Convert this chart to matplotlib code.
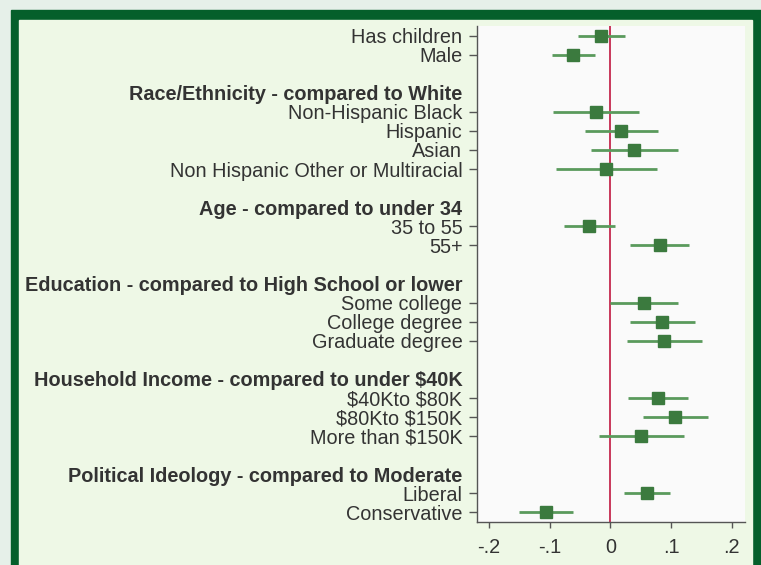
import matplotlib.pyplot as plt
from matplotlib.patches import Rectangle

plt.rcParams['font.family'] = ['Liberation Sans', 'DejaVu Sans']

# rows top to bottom; None = blank row, ("h", text) = group header
rows = [
    "Has children", "Male", None,
    ("h", "Race/Ethnicity - compared to White"),
    "Non-Hispanic Black", "Hispanic", "Asian", "Non Hispanic Other or Multiracial", None,
    ("h", "Age - compared to under 34"),
    "35 to 55", "55+", None,
    ("h", "Education - compared to High School or lower"),
    "Some college", "College degree", "Graduate degree", None,
    ("h", "Household Income - compared to under \\$40K"),
    "\\$40Kto \\$80K", "\\$80Kto \\$150K", "More than \\$150K", None,
    ("h", "Political Ideology - compared to Moderate"),
    "Liberal", "Conservative",
]

coef = [-0.015, -0.062, -0.024, 0.018, 0.039, -0.007, -0.036, 0.081,
        0.055, 0.085, 0.089, 0.078, 0.106, 0.051, 0.061, -0.107]
ci_lo = [-0.054, -0.097, -0.094, -0.042, -0.032, -0.090, -0.077, 0.032,
         0.000, 0.032, 0.028, 0.029, 0.053, -0.019, 0.023, -0.151]
ci_hi = [0.024, -0.025, 0.047, 0.079, 0.112, 0.077, 0.007, 0.130,
         0.112, 0.139, 0.151, 0.128, 0.161, 0.121, 0.099, -0.062]

xticks = [-0.2, -0.1, 0, 0.1, 0.2]
xtick_labels = ["-.2", "-.1", "0", ".1", ".2"]

W, H = 761, 565
fig = plt.figure(figsize=(W / 100, H / 100), dpi=100)
fig.patch.set_facecolor("#e6f0e9")
fig.add_artist(Rectangle((11 / W, 0), (W - 11) / W, (H - 10) / H,
                         transform=fig.transFigure, color="#055f2b", zorder=-2))
fig.add_artist(Rectangle((19 / W, 0), (752 - 19) / W, (H - 20) / H,
                         transform=fig.transFigure, color="#eef8e6", zorder=-1))

ax = fig.add_axes([477 / W, (H - 522) / H, (745 - 477) / W, (522 - 26) / H])
ax.set_facecolor("#fafafa")

ypos, labels, is_head = [], [], []
item_y = []
for i, r in enumerate(rows):
    if r is None:
        continue
    ypos.append(i)
    if isinstance(r, tuple):
        labels.append(r[1])
        is_head.append(True)
    else:
        labels.append(r)
        is_head.append(False)
        item_y.append(i)

ax.axvline(0, color="#c8375a", lw=1.4, zorder=1)
ax.hlines(item_y, ci_lo, ci_hi, color="#5a9a5c", lw=2, zorder=2)
ax.plot(coef, item_y, "s", color="#3b7a3e", ms=8.5, zorder=3)

ax.set_ylim(25.5, -0.5)
ax.set_xlim(-0.22, 0.222)

ax.set_yticks(ypos)
ax.set_yticklabels(labels)
for t, lab, h in zip(ax.yaxis.get_major_ticks(), ax.get_yticklabels(), is_head):
    if h:
        t.tick1line.set_visible(False)
        lab.set_fontweight("bold")
        lab.set_fontsize(14.5)
ax.tick_params(axis="y", length=6, width=1, color="#555555", pad=4.5,
               labelsize=14.3, labelcolor="#333333")

ax.set_xticks(xticks)
ax.set_xticklabels(xtick_labels)
ax.tick_params(axis="x", length=4.5, width=1, color="#555555", pad=7,
               labelsize=14.3, labelcolor="#333333")

for s in ["top", "right"]:
    ax.spines[s].set_visible(False)
for s in ["left", "bottom"]:
    ax.spines[s].set_color("#555555")
    ax.spines[s].set_linewidth(1)

fig.savefig("out.png", dpi=100, facecolor=fig.get_facecolor())
